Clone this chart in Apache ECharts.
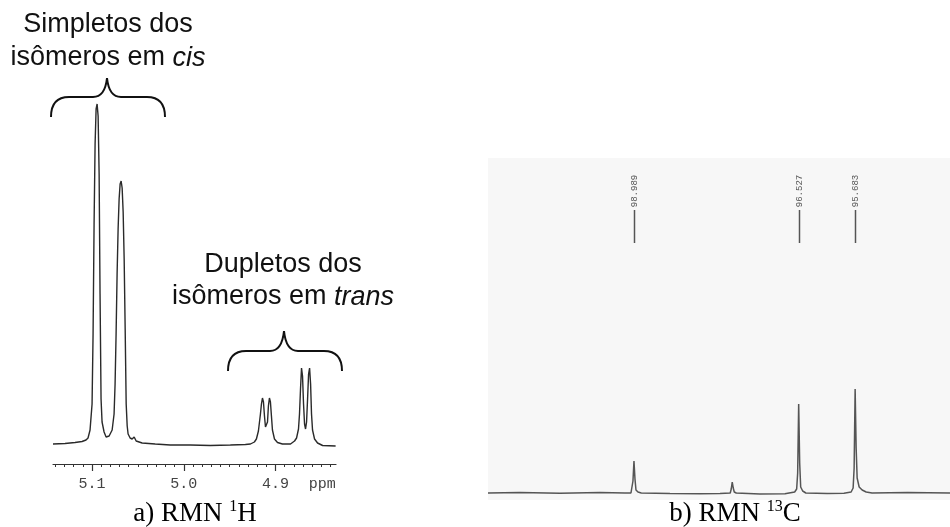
<!DOCTYPE html>
<html>
<head>
<meta charset="utf-8">
<script src="https://cdn.jsdelivr.net/npm/echarts@6/dist/echarts.min.js"></script>
<style>
  html, body { margin: 0; padding: 0; background: #fff; }
  #main { width: 950px; height: 527px; }
</style>
</head>
<body>
<div id="main"></div>
<script>
// RMN 1H - tracado (ppm, intensidade)
var hPpm = [5.1426, 5.1295, 5.1186, 5.1109, 5.1066, 5.1044, 5.1022, 5.1000, 5.0989, 5.0978,
  5.0967, 5.0956, 5.0945, 5.0934, 5.0923, 5.0913, 5.0902, 5.0891, 5.0869, 5.0847,
  5.0814, 5.0781, 5.0760, 5.0749, 5.0738, 5.0727, 5.0716, 5.0705, 5.0694, 5.0683,
  5.0672, 5.0661, 5.0650, 5.0639, 5.0628, 5.0617, 5.0607, 5.0585, 5.0563, 5.0541,
  5.0519, 5.0454, 5.0311, 5.0148, 4.9929, 4.9710, 4.9492, 4.9328, 4.9273, 4.9230,
  4.9208, 4.9186, 4.9164, 4.9153, 4.9142, 4.9131, 4.9120, 4.9109, 4.9098, 4.9087,
  4.9077, 4.9066, 4.9055, 4.9044, 4.9033, 4.9011, 4.8978, 4.8924, 4.8836, 4.8792,
  4.8770, 4.8749, 4.8738, 4.8727, 4.8716, 4.8705, 4.8694, 4.8683, 4.8672, 4.8661,
  4.8650, 4.8639, 4.8628, 4.8617, 4.8607, 4.8596, 4.8574, 4.8541, 4.8486, 4.8344];
var hIntensity = [0, 0.5, 1.5, 2.5, 4, 6, 14, 40, 110, 220,
  300, 335, 340, 328, 270, 150, 45, 22, 12, 7,
  8, 14, 30, 60, 110, 170, 215, 245, 260, 263,
  256, 232, 185, 115, 40, 18, 10, 6, 5, 7,
  3, 1, 0, -1, -1, -1.5, -1, -0.5, 0, 2,
  5, 13, 30, 40, 46, 42, 28, 17, 16, 22,
  38, 46, 42, 28, 14, 5, 1.5, 0, 0, 3,
  6, 15, 30, 55, 76, 68, 40, 20, 15, 22,
  45, 70, 76, 60, 30, 14, 5, 1, -1.5, -2];
var hTickValues = [5.1, 5.0, 4.9, 4.849];
var hTickLabels = ['5.1', '5.0', '4.9', 'ppm'];

// RMN 13C
var cPpm = [101.171, 100.693, 100.095, 99.497, 99.124, 99.034, 99.019, 99.004, 98.989, 98.974,
  98.959, 98.929, 98.88, 98.451, 98.002, 97.704, 97.55, 97.535, 97.52, 97.505,
  97.49, 97.46, 97.106, 96.732, 96.587, 96.557, 96.542, 96.527, 96.512, 96.497,
  96.467, 96.42, 96.1, 95.85, 95.743, 95.713, 95.698, 95.683, 95.668, 95.653,
  95.623, 95.578, 95.518, 95.43, 94.9, 94.265];
var cIntensity = [0, 0.5, -0.3, 0.4, 0, 0, 2, 12, 32, 14,
  3, 1, 0, -0.5, -0.8, -0.5, 0, 4, 11, 5,
  1, 0, -1, -0.8, 1, 4, 20, 89, 30, 6,
  2, 0, -0.5, -0.3, 1, 5, 25, 104, 45, 15,
  6, 3, 1, 0, 0.5, 0];
var cPeakPpm = [98.989, 96.527, 95.683];
var cPeakLabels = ['98.989', '96.527', '95.683'];

var hMinorTicks = [];
for (var t = 484; t <= 514; t++) hMinorTicks.push(t / 100);

var chart = echarts.init(document.getElementById('main'));

// chave desenhada com curvas quadraticas e retas
function brace(x1, x2, xc, yb, yh, ytip) {
  var st = {fill: null, stroke: '#111', lineWidth: 2};
  return {
    type: 'group',
    children: [
      {type: 'bezierCurve', shape: {x1: x1, y1: yb, cpx1: x1, cpy1: yh, x2: x1 + 18, y2: yh}, style: st},
      {type: 'line', shape: {x1: x1 + 18, y1: yh, x2: xc - 14, y2: yh}, style: st},
      {type: 'bezierCurve', shape: {x1: xc - 14, y1: yh, cpx1: xc - 2, cpy1: yh, x2: xc, y2: ytip}, style: st},
      {type: 'bezierCurve', shape: {x1: xc, y1: ytip, cpx1: xc + 2, cpy1: yh, x2: xc + 14, y2: yh}, style: st},
      {type: 'line', shape: {x1: xc + 14, y1: yh, x2: x2 - 18, y2: yh}, style: st},
      {type: 'bezierCurve', shape: {x1: x2 - 18, y1: yh, cpx1: x2, cpy1: yh, x2: x2, y2: yb}, style: st}
    ]
  };
}

var sans = '"Liberation Sans", Arial, sans-serif';
var serif = '"Liberation Serif", "Times New Roman", serif';
var mono = '"Liberation Mono", "Courier New", monospace';

option = {
  animation: false,
  backgroundColor: '#fff',
  grid: [
    {left: 53, right: 614, top: 100, bottom: 63},
    {left: 488, right: 0, top: 158, bottom: 27, show: true, backgroundColor: '#f7f7f7', borderWidth: 0}
  ],
  xAxis: [
    {
      gridIndex: 0, type: 'value', position: 'bottom', inverse: true, min: 4.834, max: 5.1426,
      axisLine: {onZero: false, lineStyle: {color: '#333', width: 1.2}},
      axisTick: {customValues: hMinorTicks, length: 3, lineStyle: {color: '#333'}},
      axisLabel: {show: false},
      splitLine: {show: false}
    },
    {
      gridIndex: 0, type: 'value', position: 'bottom', inverse: true, min: 4.834, max: 5.1426,
      axisLine: {show: false, onZero: false},
      axisTick: {customValues: [5.1, 5.0, 4.9], length: 7, lineStyle: {color: '#333', width: 1.2}},
      axisLabel: {
        customValues: hTickValues, margin: 13, color: '#444',
        fontFamily: mono, fontSize: 15,
        formatter: function (v) {
          var i = hTickValues.indexOf(v);
          return i >= 0 ? hTickLabels[i] : '';
        }
      },
      splitLine: {show: false}
    },
    {
      gridIndex: 1, type: 'value', inverse: true, min: 94.265, max: 101.171, show: false
    }
  ],
  yAxis: [
    {gridIndex: 0, type: 'value', min: -20, max: 344, show: false},
    {gridIndex: 1, type: 'value', min: -7, max: 335, show: false}
  ],
  series: [
    {
      name: 'RMN 1H', type: 'line', xAxisIndex: 0, yAxisIndex: 0,
      data: hPpm.map(function (p, i) { return [p, hIntensity[i]]; }),
      showSymbol: false, lineStyle: {color: '#2a2a2a', width: 1.4}
    },
    {
      name: 'RMN 13C', type: 'line', xAxisIndex: 2, yAxisIndex: 1,
      data: cPpm.map(function (p, i) { return [p, cIntensity[i]]; }),
      showSymbol: false, lineStyle: {color: '#555', width: 1.5}
    },
    {
      name: 'picos', type: 'custom', xAxisIndex: 2, yAxisIndex: 1,
      data: cPeakPpm.map(function (p) { return [p, 0]; }),
      renderItem: function (params, api) {
        var x = Math.round(api.coord([api.value(0), 0])[0]) + 0.5;
        return {
          type: 'group',
          children: [
            {type: 'line', shape: {x1: x, y1: 210, x2: x, y2: 243}, style: {stroke: '#555', lineWidth: 1.5}},
            {
              type: 'text', x: x, y: 191, rotation: Math.PI / 2,
              style: {
                text: cPeakLabels[params.dataIndex], fill: '#555',
                font: '9px ' + mono, align: 'center', verticalAlign: 'middle'
              }
            }
          ]
        };
      }
    }
  ],
  graphic: [
    brace(51, 165, 107, 117, 97, 78),
    brace(228, 342, 284, 371, 351, 331),
    {type: 'text', x: 108, y: 25, style: {text: 'Simpletos dos', font: '27px ' + sans, fill: '#111', align: 'center', verticalAlign: 'middle'}},
    {
      type: 'text', x: 108, y: 58,
      style: {
        text: '{n|isômeros em }{i|cis}', align: 'center', verticalAlign: 'middle',
        rich: {
          n: {font: '27px ' + sans, fill: '#111'},
          i: {font: 'italic 27px ' + sans, fill: '#111'}
        }
      }
    },
    {type: 'text', x: 283, y: 265, style: {text: 'Dupletos dos', font: '27px ' + sans, fill: '#111', align: 'center', verticalAlign: 'middle'}},
    {
      type: 'text', x: 283, y: 297,
      style: {
        text: '{n|isômeros em }{i|trans}', align: 'center', verticalAlign: 'middle',
        rich: {
          n: {font: '27px ' + sans, fill: '#111'},
          i: {font: 'italic 27px ' + sans, fill: '#111'}
        }
      }
    },
    {
      type: 'text', x: 195, y: 514,
      style: {
        text: '{n|a) RMN }{s|1}{n|H}', align: 'center', verticalAlign: 'middle',
        rich: {
          n: {font: '27px ' + serif, fill: '#000', lineHeight: 30},
          s: {font: '16px ' + serif, fill: '#000', verticalAlign: 'top', lineHeight: 16}
        }
      }
    },
    {
      type: 'text', x: 735, y: 514,
      style: {
        text: '{n|b) RMN }{s|13}{n|C}', align: 'center', verticalAlign: 'middle',
        rich: {
          n: {font: '27px ' + serif, fill: '#000', lineHeight: 30},
          s: {font: '16px ' + serif, fill: '#000', verticalAlign: 'top', lineHeight: 16}
        }
      }
    }
  ]
};

chart.setOption(option);
</script>
</body>
</html>
